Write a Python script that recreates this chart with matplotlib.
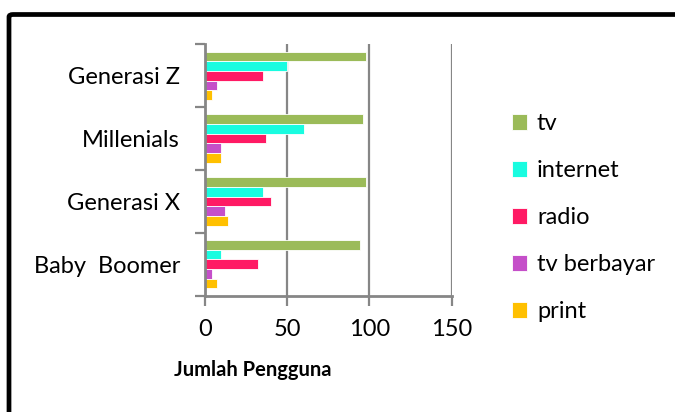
import numpy as np
import matplotlib
matplotlib.use("Agg")
import matplotlib.pyplot as plt
from matplotlib.patches import FancyBboxPatch

# Media usage per generation
generations = ["Generasi Z", "Millenials", "Generasi X", "Baby  Boomer"]
media = ["tv", "internet", "radio", "tv berbayar", "print"]
tv = [98, 96, 98, 94]
internet = [50, 60, 35, 10]
radio = [35, 37, 40, 32]
tv_berbayar = [7, 10, 12, 4]
print_media = [4, 10, 14, 7]
xticks = [0, 50, 100, 150]

colors = ["#9BBB59", "#19FCE0", "#FF1A64", "#C54FC9", "#FFC000"]
series = [tv, internet, radio, tv_berbayar, print_media]

plt.rcParams['font.family'] = ['Lato', 'DejaVu Sans']

fig = plt.figure(figsize=(6.75, 4.12), dpi=100)
ax = fig.add_axes([205 / 675, 1 - 295.7 / 412, (451.7 - 205) / 675, (295.7 - 44.3) / 412])

# bottom category at y=0
ypos = np.arange(len(generations))[::-1]
h = 0.154
for i, (vals, c) in enumerate(zip(series, colors)):
    off = (2 - i) * h
    ax.barh(ypos + off, vals, height=h, color=c, edgecolor="white",
            linewidth=0.6, label=media[i], zorder=3)

grid_c = "#868686"
ax.set_xlim(0, 150)
ax.set_ylim(-0.5, len(generations) - 0.5)
ax.set_xticks(xticks)
ax.set_xticklabels([str(t) for t in xticks], fontsize=17)
for t in xticks[1:]:
    ax.axvline(t, color=grid_c, linewidth=1.6, zorder=1)

# category boundaries as major ticks, labels on minor ticks
ax.set_yticks(np.arange(-0.5, len(generations), 1.0))
ax.set_yticklabels([])
ax.set_yticks(ypos, minor=True)
ax.set_yticklabels(generations, minor=True, fontsize=17)
ax.tick_params(axis="y", which="minor", length=0, pad=18)
ax.tick_params(axis="y", which="major", length=7, width=1.6, color=grid_c)
ax.tick_params(axis="x", length=7, width=1.6, color=grid_c, pad=10)

for s in ["top", "right"]:
    ax.spines[s].set_visible(False)
for s in ["left", "bottom"]:
    ax.spines[s].set_color(grid_c)
    ax.spines[s].set_linewidth(2)
    ax.spines[s].set_zorder(4)

ax.set_xlabel("Jumlah Pengguna", fontsize=14.5, fontweight="bold")
ax.xaxis.set_label_coords((253 - 205) / 246.7, -(370 - 295.7) / 251.4)
ax.xaxis.label.set_va("center")

leg = ax.legend(loc="center left", bbox_to_anchor=(1.245, 0.31), frameon=False,
                fontsize=17, handlelength=0.65, handleheight=0.65,
                handletextpad=0.4, labelspacing=1.1, borderaxespad=0,
                borderpad=0)

# outer frame around the chart area
frame = FancyBboxPatch((9 / 675, -0.2), 1.2, 1.2 - 14.5 / 412,
                       boxstyle="round,pad=0,rounding_size=0.006",
                       transform=fig.transFigure, fill=False,
                       edgecolor="black", linewidth=3.4, clip_on=False)
fig.patches.append(frame)

fig.savefig("out.png", dpi=100)
